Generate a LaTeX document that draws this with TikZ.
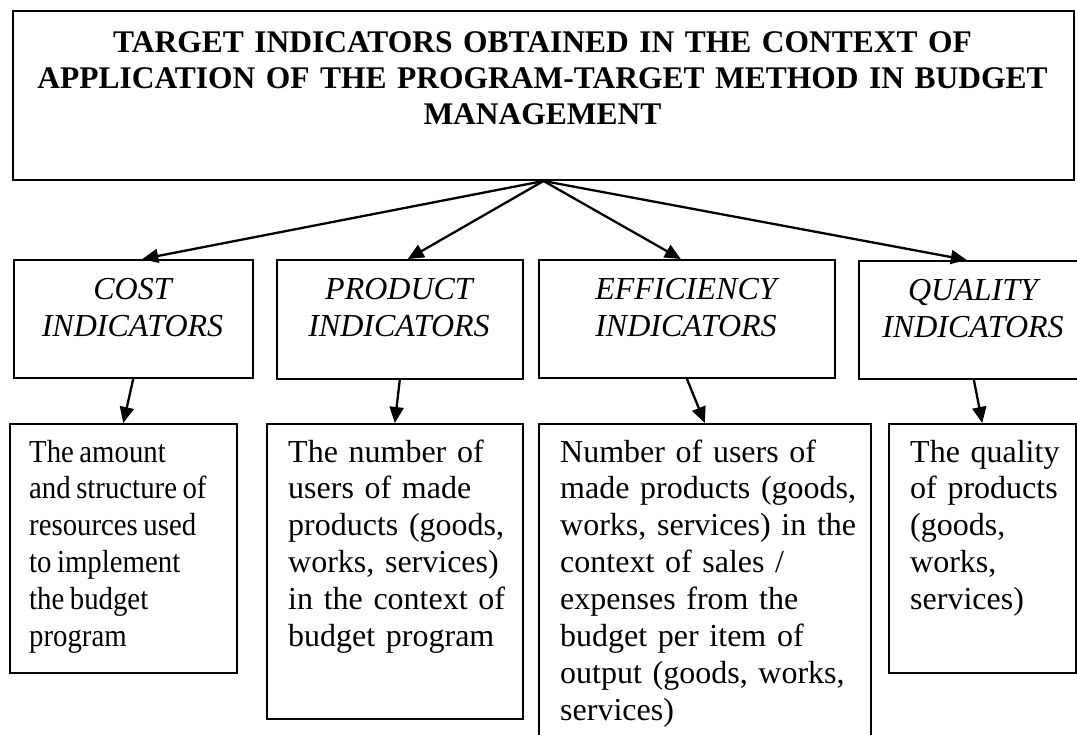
\documentclass[tikz,border=0pt]{standalone}
\usepackage{fontspec}
\setmainfont{Liberation Serif}
\newfontfamily\narrowserif{Liberation Serif}[FakeStretch=0.9]
\usetikzlibrary{arrows.meta}
\begin{document}
\begin{tikzpicture}[x=1pt,y=-1pt,
  frame/.style={draw, line width=1.6pt, inner sep=0pt, anchor=north west},
  link/.style={line width=2.3pt, -{Triangle[length=16pt,width=14pt]}},
  titletext/.style={font=\fontsize{31.5}{35.7}\selectfont\bfseries, text width=1050pt, align=center, anchor=base, inner sep=0pt},
  heading/.style={font=\fontsize{32}{37}\selectfont\itshape, text width=240pt, align=center, anchor=base, inner sep=0pt},
  body/.style={font=\fontsize{32}{36.9}\selectfont, text width=330pt, align=left, anchor=base west, inner sep=0pt}]

% canvas
\path[use as bounding box, fill=white] (0,0) rectangle (1077,735);
\clip (0,0) rectangle (1077,735);

% main box
\node[frame, line width=2pt, minimum width=1061pt, minimum height=169pt] (top) at (12,10) {};
\node[titletext] (title) at (542.5,53) {TARGET INDICATORS OBTAINED IN THE CONTEXT OF\\APPLICATION OF THE PROGRAM-TARGET METHOD IN BUDGET\\MANAGEMENT};

% indicator groups
\node[frame, minimum width=239pt, minimum height=118pt] (costH) at (13,259) {};
\node[frame, minimum width=246pt, minimum height=119pt] (prodH) at (276,259) {};
\node[frame, minimum width=296pt, minimum height=118pt] (effH) at (538,259) {};
\node[frame, minimum width=230pt, minimum height=118pt] (qualH) at (858,260) {};

\node[heading] (costT) at (132.5,300) {COST\\INDICATORS};
\node[heading] (prodT) at (399,300) {PRODUCT\\INDICATORS};
\node[heading] (effT) at (686,300) {EFFICIENCY\\INDICATORS};
\node[heading] (qualT) at (973,301) {QUALITY\\INDICATORS};

% descriptions
\node[frame, minimum width=227pt, minimum height=249pt] (costB) at (9,423) {};
\node[frame, minimum width=256pt, minimum height=295pt] (prodB) at (266,423) {};
\node[frame, minimum width=332pt, minimum height=340pt] (effB) at (538,423) {};
\node[frame, minimum width=187pt, minimum height=249pt] (qualB) at (888,423) {};

\node[body, font=\fontsize{32}{36.9}\selectfont\narrowserif] (costD) at (29,462) {\spaceskip=5.5pt plus 0pt minus 0pt\xspaceskip=5.5pt The amount\\and structure of\\resources used\\to implement\\the budget\\program};
\node[body] (prodD) at (288,462) {The number of\\users of made\\products (goods,\\works, services)\\in the context of\\budget program};
\node[body] (effD) at (560,462) {Number of users of\\made products (goods,\\works, services) in the\\context of sales /\\expenses from the\\budget per item of\\output (goods, works,\\services)};
\node[body] (qualD) at (910,462) {The quality\\of products\\(goods,\\works,\\services)};

% connectors
\draw[link] (top.south) -- ([xshift=9pt]costH.north);
\draw[link] (top.south) -- ([xshift=8pt]prodH.north);
\draw[link] (top.south) -- ([xshift=-6pt]effH.north);
\draw[link] (top.south) -- ([xshift=-7pt]qualH.north);

\draw[link] (costH.south) -- (costB.north);
\draw[link] (prodH.south) -- (prodB.north);
\draw[link] (effH.south) -- (effB.north);
\draw[link] (qualH.south) -- (qualB.north);
\end{tikzpicture}
\end{document}
